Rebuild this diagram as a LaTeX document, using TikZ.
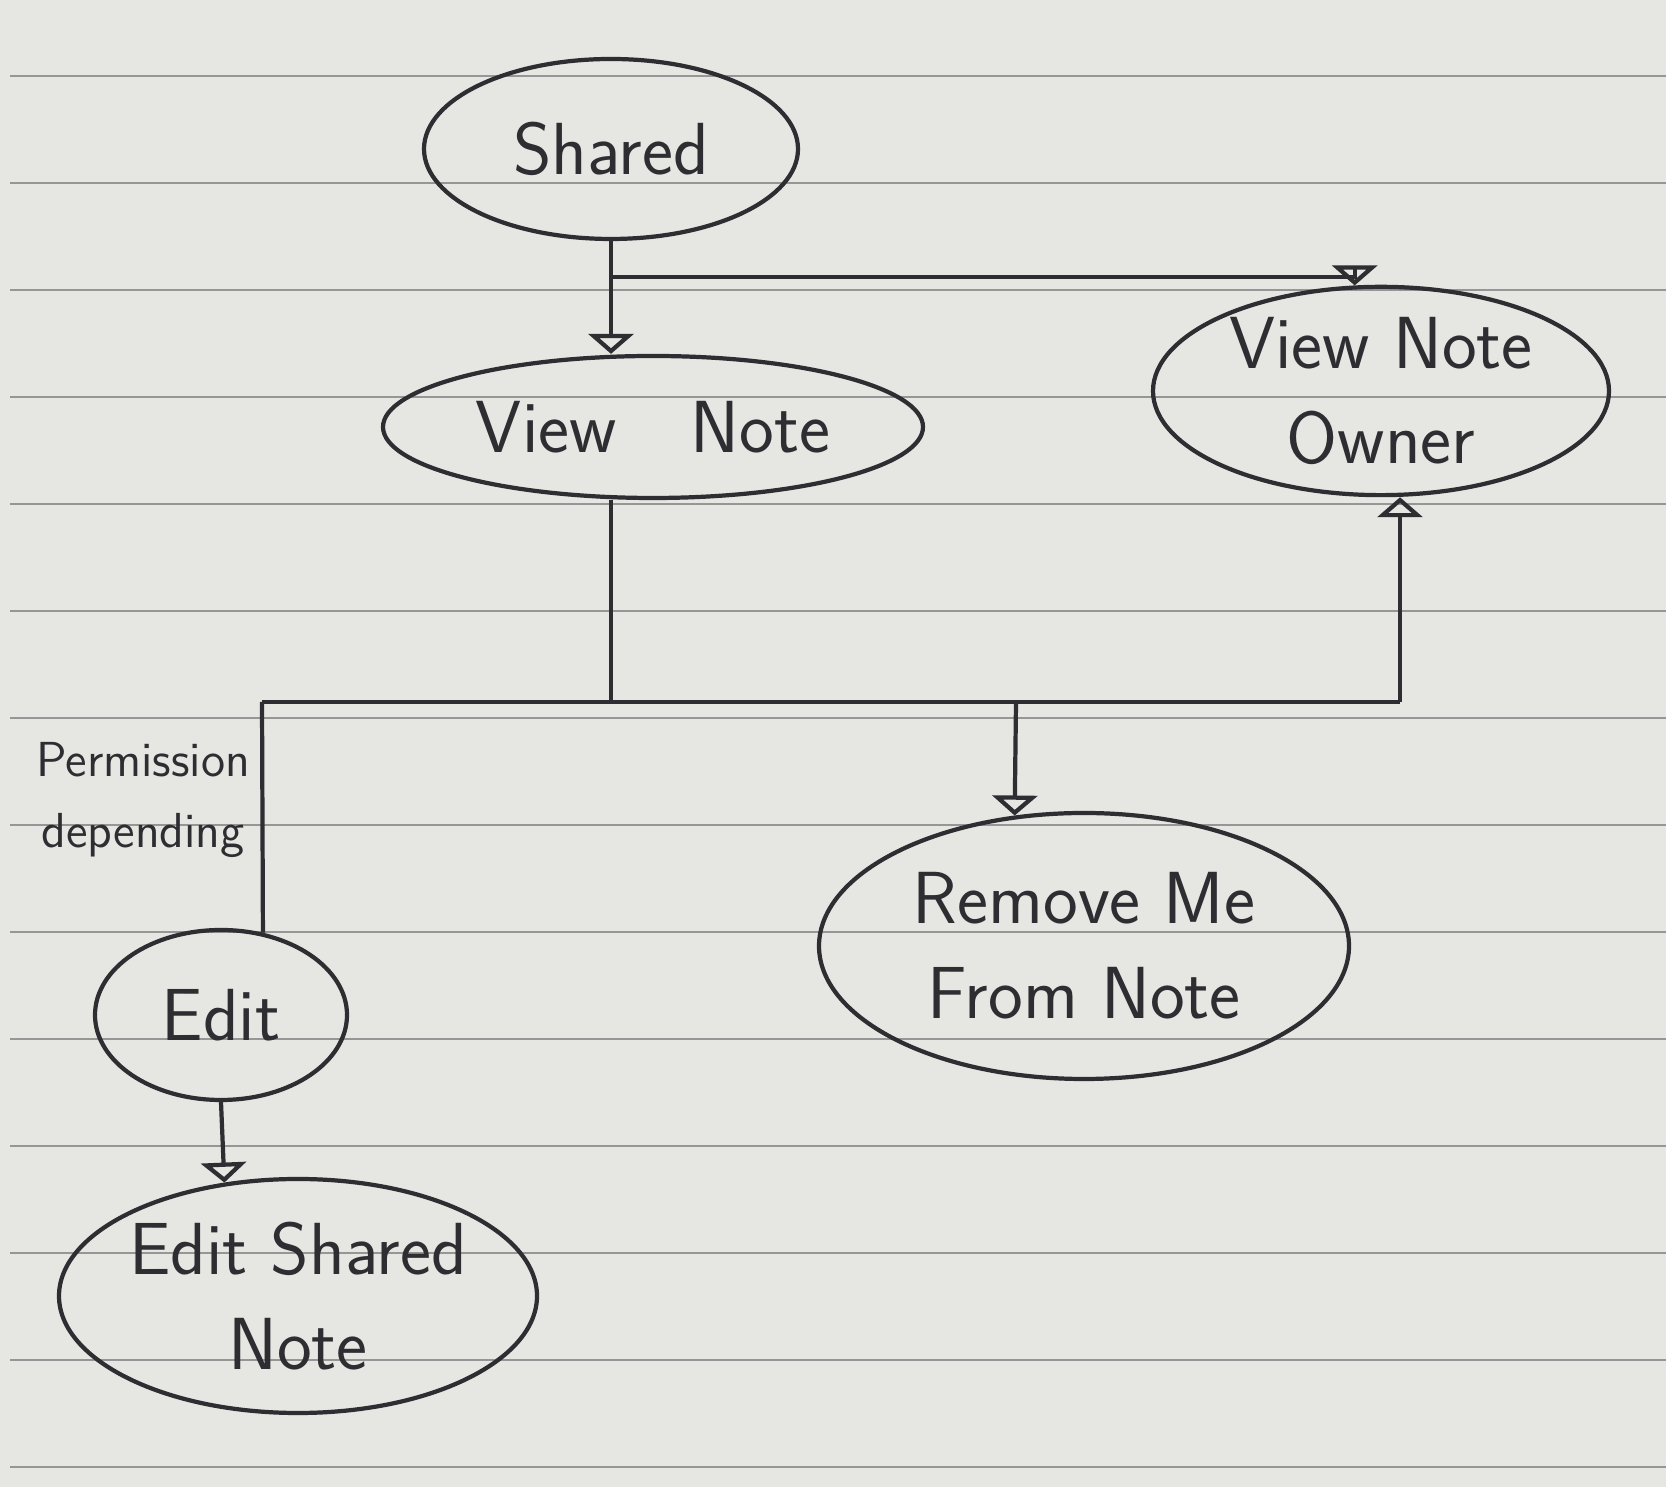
\documentclass[tikz,border=0pt]{standalone}
\usetikzlibrary{shapes.geometric,arrows.meta}
\definecolor{paper}{RGB}{230,230,226}
\definecolor{ink}{RGB}{45,45,50}
\definecolor{ruled}{RGB}{150,150,150}

\begin{document}
\begin{tikzpicture}
  [line width=1.2pt,color=ink,
   note/.style={ellipse,draw=ink,inner sep=0pt,align=center,
     font=\sffamily\fontsize{21}{27}\selectfont},
   flow/.style={-{Triangle[open,length=2mm,width=4.5mm]}}]
  \useasboundingbox (0,0) rectangle (16.66,14.87);
  \fill[paper] (0,0) rectangle (16.66,14.87);
  \foreach \i in {0,...,13}
    \draw[ruled,line width=.6pt] (0.1,{0.2+1.07*\i}) -- (16.66,{0.2+1.07*\i});

  \node[note,minimum width=3.74cm,minimum height=1.8cm] (sh) at (6.11,13.38) {Shared};
  \node[note,minimum width=5.4cm,minimum height=1.42cm] (vn) at (6.53,10.6) {View\quad Note};
  \node[note,minimum width=4.56cm,minimum height=2.06cm] (vo) at (13.81,10.96) {View Note\\Owner};
  \node[note,minimum width=2.52cm,minimum height=1.7cm] (ed) at (2.21,4.72) {Edit};
  \node[note,minimum width=4.78cm,minimum height=2.34cm] (es) at (2.98,1.91) {Edit Shared\\Note};
  \node[note,minimum width=5.3cm,minimum height=2.66cm] (rm) at (10.84,5.41) {Remove Me\\From Note};
  \node[align=center,font=\sffamily\fontsize{14}{20}\selectfont] (pd) at (1.43,6.87) {Permission\\depending};

  \coordinate (j1) at (6.11,12.1);
  \coordinate (j2) at (6.11,7.85);
  \coordinate (j3) at (10.16,7.85);
  \coordinate (bl) at (2.62,7.85);
  \coordinate (br) at (14.0,7.85);

  \draw[flow] (sh.south) -- (sh.south |- vn.north);
  \draw[flow] (j1) -| (vo.104);
  \draw (sh.south |- vn.south) -- (j2);
  \draw (bl) -- (br);
  \draw (bl) -- (ed.63);
  \draw[flow] (br) -- (br |- vo.south);
  \foreach \from/\to in {j3/rm.118,ed.south/es.123}
    \draw[flow] (\from) -- (\to);
\end{tikzpicture}
\end{document}
